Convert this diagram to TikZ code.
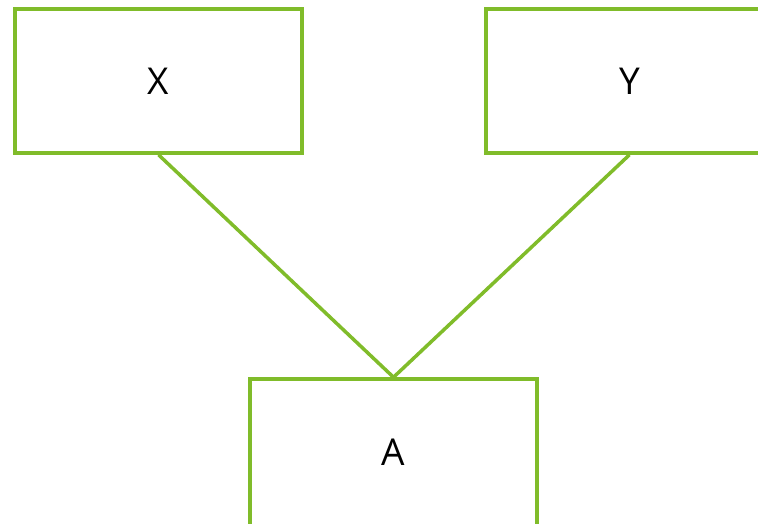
\documentclass[tikz,border=0pt]{standalone}
\usepackage{fontspec}
\setmainfont{Open Sans}
\definecolor{boxgreen}{HTML}{80BC2A}
\begin{document}
\begin{tikzpicture}[x=1pt,y=-1pt,
  box/.style={draw=boxgreen,line width=3.5pt,minimum width=287pt,minimum height=144pt,inner sep=0pt,font=\fontsize{37}{40}\selectfont},
  link/.style={draw=boxgreen,line width=3.5pt}]
\clip (0,0) rectangle (758,523);
\useasboundingbox (0,0) rectangle (758,523);
\node[box] (X) at (158.5,81) {X};
\node[box] (Y) at (629.5,81) {Y};
\node[box,minimum height=147pt] (A) at (393.5,452.5) {A};
\draw[link] (X.south) -- (A.north);
\draw[link] (Y.south) -- (A.north);
\end{tikzpicture}
\end{document}
